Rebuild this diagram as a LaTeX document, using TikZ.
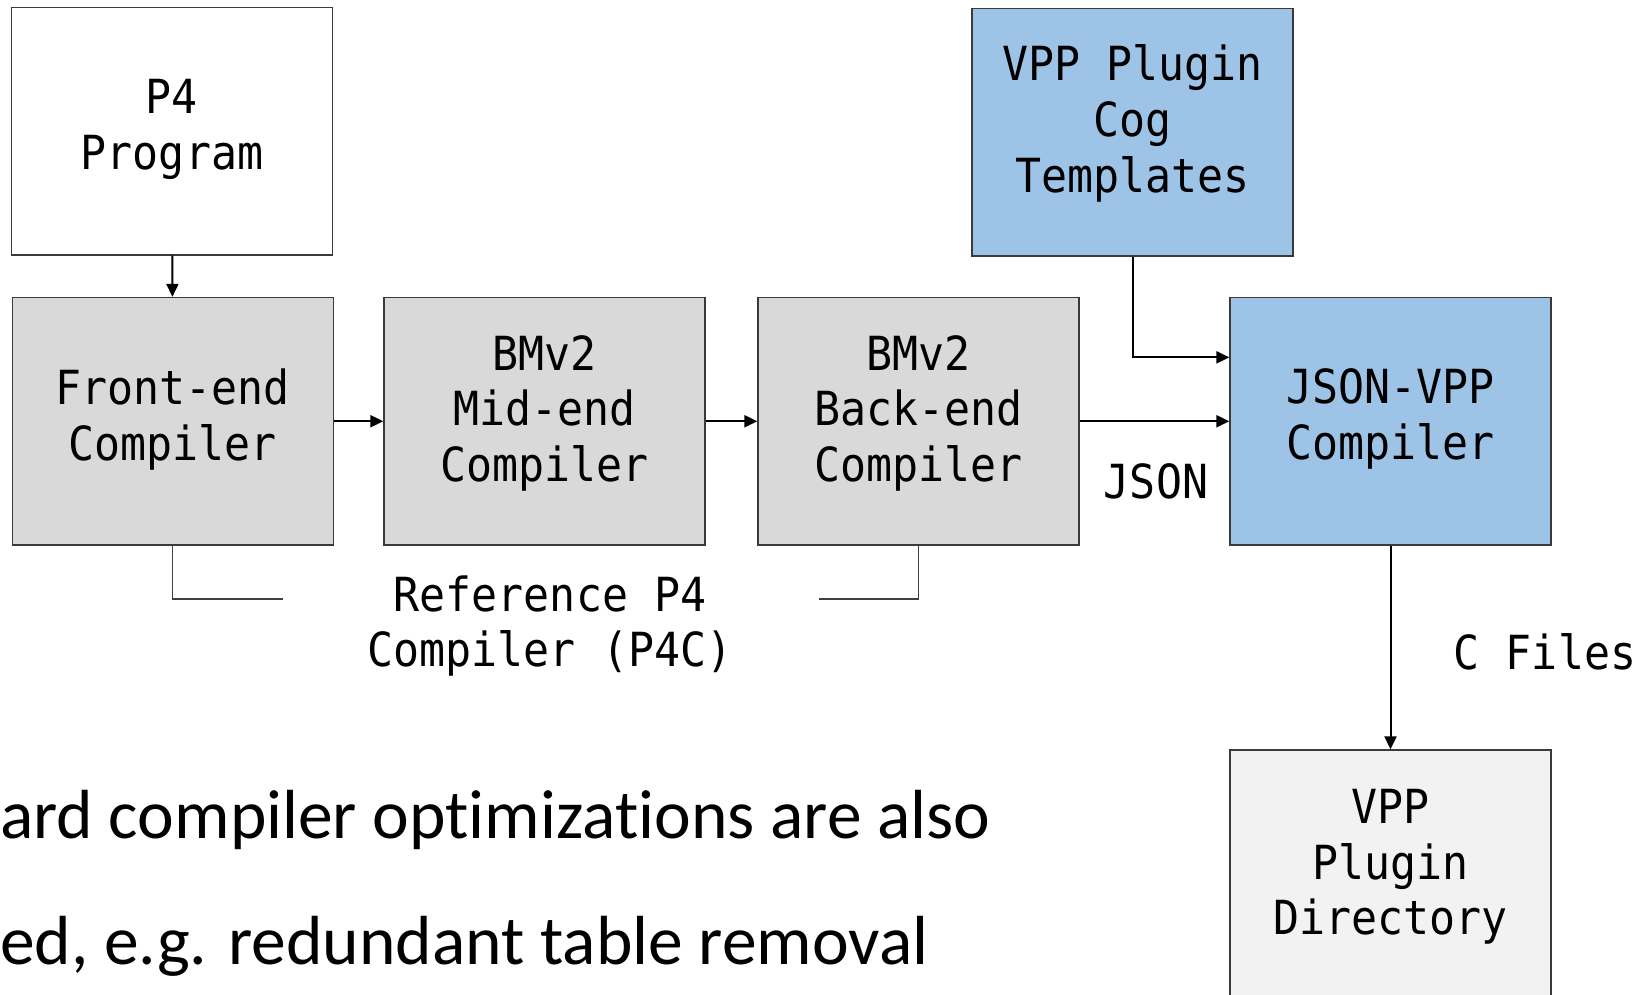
\documentclass[tikz,border=0pt]{standalone}
\usepackage{fontspec}
\newfontfamily\mono[FakeStretch=0.92]{DejaVu Sans Mono}
\newfontfamily\calib[RawFeature={-liga;-clig;-calt;-dlig}]{Carlito}
\usetikzlibrary{arrows.meta,calc}
\definecolor{boxgray}{HTML}{D9D9D9}
\definecolor{boxblue}{HTML}{9DC3E6}
\definecolor{boxlight}{HTML}{F2F2F2}
\definecolor{edge}{HTML}{3A3A3A}
\begin{document}
\begin{tikzpicture}[x=1pt,y=-1pt,
  blk/.style={draw=edge,line width=1.3pt,minimum width=321pt,minimum height=247.5pt,inner sep=0pt},
  lbl/.style={align=center,inner sep=0pt,font=\mono\fontsize{47}{55.7}\selectfont},
  flow/.style={line width=2pt,-{Triangle[length=13pt,width=12pt]}},
  brk/.style={line width=1.1pt,draw=black!75},
  body/.style={anchor=base west,inner sep=0pt,font=\calib\fontsize{69.5}{80}\selectfont}]
\clip (0,0) rectangle (1648,995);
\useasboundingbox (0,0) rectangle (1648,995);
% boxes
\node[blk,fill=white]     (p4)  at (172,131.25) {};
\node[blk,fill=boxgray]   (fe)  at (172.75,421.25) {};
\node[blk,fill=boxgray]   (mid) at (544.5,421.25) {};
\node[blk,fill=boxgray]   (be)  at (918.5,421.25) {};
\node[blk,fill=boxblue]   (cog) at (1132.5,132.3) {};
\node[blk,fill=boxblue]   (jv)  at (1390.5,421.25) {};
\node[blk,fill=boxlight]  (dir) at (1390.5,873.75) {};
% box texts
\node[lbl] (tp4)  at ([yshift=2pt]p4.center)  {P4\\Program};
\node[lbl] (tfe)  at ([yshift=2pt]fe.center)  {Front-end\\Compiler};
\node[lbl] (tmid) at ([yshift=8pt]mid.center) {BMv2\\Mid-end\\Compiler};
\node[lbl] (tbe)  at ([yshift=8pt]be.center)  {BMv2\\Back-end\\Compiler};
\node[lbl] (tcog) at ([yshift=9pt]cog.center) {VPP Plugin\\Cog\\Templates};
\node[lbl] (tjv)  at ([yshift=2pt]jv.center)  {JSON-VPP\\Compiler};
\node[lbl] (tdir) at ([yshift=7pt]dir.center) {VPP\\Plugin\\Directory};
% labels
\node[lbl] (json)   at (1156,481) {JSON};
\node[lbl] (cfiles) at (1545,652) {C Files};
\node[lbl] (p4c)    at (550,626)  {Reference P4\\Compiler (P4C)};
% connectors
\draw[flow] (p4) -- (fe);
\draw[flow] (fe) -- (mid);
\draw[flow] (mid) -- (be);
\draw[flow] (be) -- (jv);
\draw[flow] (cog.south) |- ([yshift=-60.5pt]jv.north west);
\draw[flow] (jv) -- (dir);
% bracket
\coordinate (bl) at (283,599);
\coordinate (br) at (819,599);
\draw[brk] (fe.south) |- (bl);
\draw[brk] (be.south) |- (br);
% bottom text
\node[body] (t1) at (0,838) {ard compiler opt\kern0pt imizat\kern0pt ions are also};
\node[body] (t2) at (0,964) {ed, e.g. redundant table removal};
\end{tikzpicture}
\end{document}
